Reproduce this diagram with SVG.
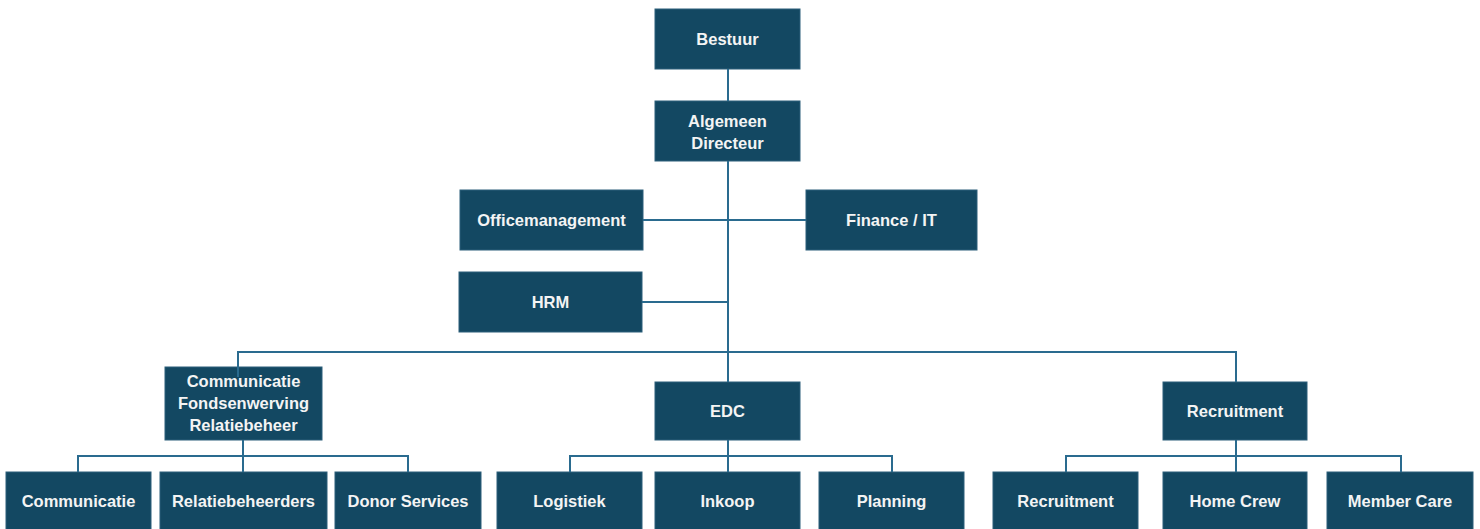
<svg xmlns="http://www.w3.org/2000/svg" width="1480" height="529" viewBox="0 0 1480 529">
<style>
.box{fill:#134862;stroke:#2c5f7a;stroke-width:1}
.t{fill:#f4f4f4;font-family:"Liberation Sans",Arial,sans-serif;font-weight:bold;font-size:16.5px;text-anchor:middle}
.c{fill:none;stroke:#2a6b8f;stroke-width:2}
</style>
<rect width="1480" height="529" fill="#ffffff"/>
<g id="bestuur"><rect class="box" x="655" y="9" width="145" height="60"/><text class="t" x="727.5" y="45">Bestuur</text></g>
<g id="algemeen-directeur"><rect class="box" x="655" y="101" width="145" height="60"/><text class="t" x="727.5" y="127">Algemeen</text><text class="t" x="727.5" y="149">Directeur</text></g>
<g id="officemanagement"><rect class="box" x="460" y="190" width="183" height="60"/><text class="t" x="551.5" y="226">Officemanagement</text></g>
<g id="finance-it"><rect class="box" x="806" y="190" width="171" height="60"/><text class="t" x="891.5" y="226">Finance / IT</text></g>
<g id="hrm"><rect class="box" x="459" y="272" width="183" height="60"/><text class="t" x="550.5" y="308">HRM</text></g>
<g id="communicatie-fondsenwerving"><rect class="box" x="165" y="367" width="157" height="73"/><text class="t" x="243.5" y="387">Communicatie</text><text class="t" x="243.5" y="409">Fondsenwerving</text><text class="t" x="243.5" y="431">Relatiebeheer</text></g>
<g id="edc"><rect class="box" x="655" y="382" width="145" height="58"/><text class="t" x="727.5" y="417">EDC</text></g>
<g id="recruitment"><rect class="box" x="1163" y="382" width="144" height="58"/><text class="t" x="1235" y="417">Recruitment</text></g>
<g id="communicatie"><rect class="box" x="6" y="472" width="145" height="60"/><text class="t" x="78.500" y="507">Communicatie</text></g>
<g id="relatiebeheerders"><rect class="box" x="160" y="472" width="167" height="60"/><text class="t" x="243.500" y="507">Relatiebeheerders</text></g>
<g id="donor-services"><rect class="box" x="335" y="472" width="146" height="60"/><text class="t" x="408" y="507">Donor Services</text></g>
<g id="logistiek"><rect class="box" x="497" y="472" width="145" height="60"/><text class="t" x="569.500" y="507">Logistiek</text></g>
<g id="inkoop"><rect class="box" x="655" y="472" width="145" height="60"/><text class="t" x="727.500" y="507">Inkoop</text></g>
<g id="planning"><rect class="box" x="819" y="472" width="145" height="60"/><text class="t" x="891.500" y="507">Planning</text></g>
<g id="recruitment-2"><rect class="box" x="993" y="472" width="145" height="60"/><text class="t" x="1065.500" y="507">Recruitment</text></g>
<g id="home-crew"><rect class="box" x="1163" y="472" width="144" height="60"/><text class="t" x="1235" y="507">Home Crew</text></g>
<g id="member-care"><rect class="box" x="1327" y="472" width="146" height="60"/><text class="t" x="1400" y="507">Member Care</text></g>
<g id="connectors">
<path class="c" d="M728 69V101"/>
<path class="c" d="M728 161V352"/>
<path class="c" d="M643 220H806"/>
<path class="c" d="M642 302H728"/>
<path class="c" d="M238 377V352H1236V382"/>
<path class="c" d="M728 352V382"/>
<path class="c" d="M243 440V456"/>
<path class="c" d="M78 472V456H408V472"/>
<path class="c" d="M243 456V472"/>
<path class="c" d="M728 440V472"/>
<path class="c" d="M570 472V456H892V472"/>
<path class="c" d="M1236 440V472"/>
<path class="c" d="M1066 472V456H1401V472"/>
</g>
</svg>
